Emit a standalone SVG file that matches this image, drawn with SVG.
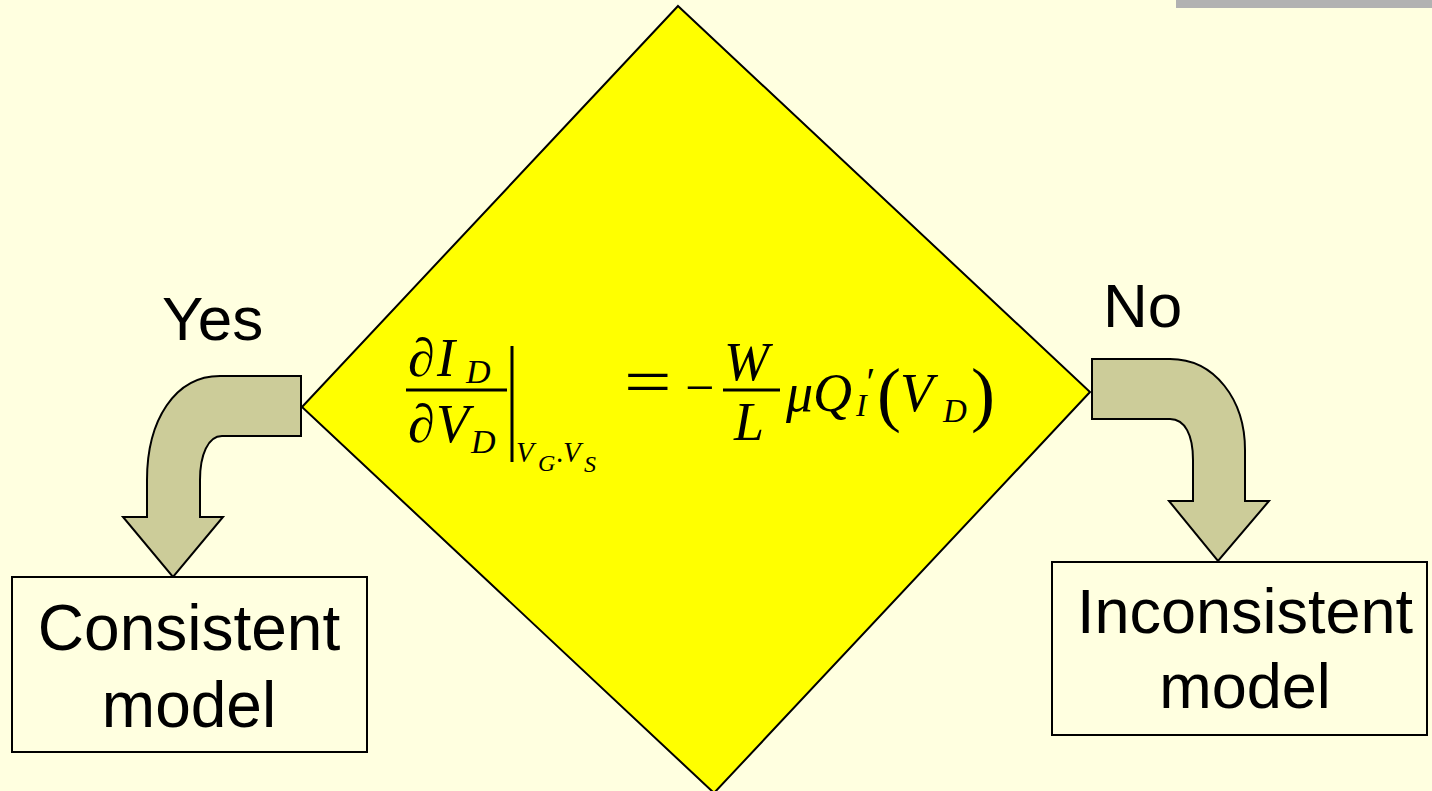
<svg xmlns="http://www.w3.org/2000/svg" width="1432" height="791" viewBox="0 0 1432 791">
<style>
.lbl{font-family:"Liberation Sans",Arial,sans-serif;fill:#000}
.m{font-family:"Liberation Serif","Times New Roman",serif;font-style:italic;fill:#000}
.u{font-family:"Liberation Serif","Times New Roman",serif;fill:#000}
.arrow{fill:#CCCC99;stroke:#000;stroke-width:2;stroke-linejoin:miter}
.box{fill:#FFFFE0;stroke:#000;stroke-width:2}
.rule{stroke:#000;stroke-width:3}
</style>
<rect x="0" y="0" width="1432" height="791" fill="#FFFFE0"/>
<rect x="1176" y="0" width="256" height="8" fill="#B2B2B2"/>
<g id="decision">
<polygon points="678,6 1090,392 714,793 302,407" fill="#FFFF00" stroke="#000" stroke-width="2"/>
<g id="equation">
<text class="u" x="408" y="376" font-size="54">∂</text>
<text class="m" x="437" y="376" font-size="54">I</text>
<text class="m" x="466" y="383" font-size="34">D</text>
<line class="rule" x1="406" y1="390" x2="507" y2="390"/>
<text class="u" x="408" y="442" font-size="54">∂</text>
<text class="m" x="436" y="442" font-size="54">V</text>
<text class="m" x="471" y="453" font-size="34">D</text>
<line class="rule" x1="512" y1="346" x2="512" y2="462"/>
<text class="m" x="516" y="462" font-size="29">V</text>
<text class="m" x="538" y="471" font-size="24">G</text>
<text class="u" x="556" y="462" font-size="29">.</text>
<text class="m" x="563" y="462" font-size="29">V</text>
<text class="m" x="584" y="472" font-size="24">S</text>
<text class="u" font-size="66" transform="translate(624 404) scale(1.28 1)">=</text>
<text class="u" x="685" y="405" font-size="52">−</text>
<text class="m" x="724" y="380" font-size="54">W</text>
<line class="rule" x1="723" y1="390" x2="780" y2="390"/>
<text class="m" x="734" y="440" font-size="54">L</text>
<text class="m" x="786" y="411" font-size="54">μ<tspan x="813">Q</tspan><tspan x="864" y="395" font-size="40">′</tspan><tspan x="856" y="416" font-size="32">I</tspan></text>
<text class="u" x="877" y="418" font-size="72">(</text>
<text class="m" x="900" y="411" font-size="54">V</text>
<text class="m" x="943" y="422" font-size="33">D</text>
<text class="u" x="971" y="418" font-size="72">)</text>
</g>
</g>
<g id="connectors">
<path id="yes-arrow" class="arrow" d="M 301 376 L 220 376 C 175 376 147 420 147 480 L 147 517 L 123 517 L 173 577 L 223 517 L 200 517 L 200 480 C 200 455 208 436 222 436 L 301 436 Z"/>
<path id="no-arrow" class="arrow" d="M 1092 359 L 1170 359 C 1215 359 1245 400 1245 450 L 1245 501 L 1269 501 L 1218 561 L 1169 501 L 1193 501 L 1193 460 C 1193 435 1185 419 1170 419 L 1092 419 Z"/>
<text class="lbl" x="162" y="340" font-size="62">Yes</text>
<text class="lbl" x="1103" y="327" font-size="62">No</text>
</g>
<g id="consistent">
<rect class="box" x="12" y="577" width="355" height="175"/>
<text class="lbl" x="189" y="650" font-size="64" text-anchor="middle">Consistent</text>
<text class="lbl" x="189" y="727" font-size="64" text-anchor="middle">model</text>
</g>
<g id="inconsistent">
<rect class="box" x="1052" y="562" width="375" height="173"/>
<text class="lbl" x="1245" y="633" font-size="63" text-anchor="middle">Inconsistent</text>
<text class="lbl" x="1245" y="708" font-size="63" text-anchor="middle">model</text>
</g>
</svg>
